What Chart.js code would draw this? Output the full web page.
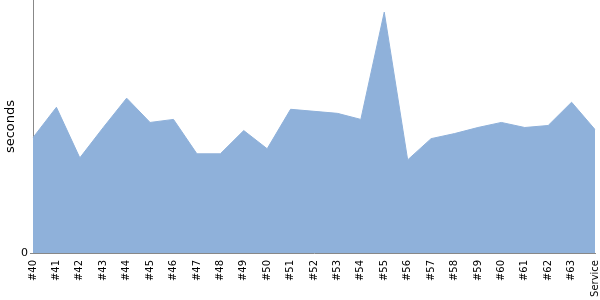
<!DOCTYPE html>
<html>
<head>
<meta charset="utf-8">
<script src="https://cdn.jsdelivr.net/npm/chart.js@4"></script>
<style>
  html, body { margin: 0; padding: 0; background: #fff; }
  #wrap { width: 600px; height: 300px; }
</style>
</head>
<body>
<div id="wrap"><canvas id="buildChart" width="600" height="300"></canvas></div>
<script>
const builds = ['#40', '#41', '#42', '#43', '#44', '#45', '#46', '#47', '#48', '#49', '#50', '#51',
    '#52', '#53', '#54', '#55', '#56', '#57', '#58', '#59', '#60', '#61', '#62', '#63', 'Service'];
const durations = [114, 144, 94, 124, 153, 129, 132, 98, 98, 121, 103, 142,
    140, 138, 132, 238, 92, 113, 118, 124, 129, 124, 126, 149, 122];
const yTicks = [0];
const yMax = 250;

document.addEventListener('DOMContentLoaded', () => {
    const ctx = document.getElementById('buildChart').getContext('2d');
    new Chart(ctx, {
        type: 'line',
        data: {
            labels: builds,
            datasets: [{
                label: 'Duration',
                data: durations,
                fill: 'origin',
                backgroundColor: 'rgb(143, 177, 218)',
                borderColor: 'rgb(143, 177, 218)',
                borderWidth: 1,
                pointRadius: 0,
                tension: 0
            }]
        },
        options: {
            responsive: false,
            animation: false,
            plugins: { legend: { display: false }, tooltip: { enabled: false } },
            layout: { padding: 0 },
            scales: {
                x: {
                    offset: false,
                    grid: { display: false, drawTicks: false },
                    border: { display: true, color: '#888' },
                    ticks: {
                        autoSkip: false,
                        minRotation: 90,
                        maxRotation: 90,
                        padding: 7,
                        color: '#000',
                        font: { family: 'DejaVu Sans', size: 10 }
                    },
                    afterFit: (s) => { s.height = 47; s.paddingRight = 5; s.paddingLeft = 0; }
                },
                y: {
                    min: 0,
                    max: yMax,
                    afterBuildTicks: (s) => { s.ticks = yTicks.map(v => ({ value: v })); },
                    grid: { drawOnChartArea: false, drawTicks: true, tickLength: 3, color: '#888' },
                    border: { display: true, color: '#888' },
                    ticks: {
                        padding: 2,
                        color: '#000',
                        font: { family: 'DejaVu Sans', size: 11 }
                    },
                    title: {
                        display: true,
                        text: 'seconds',
                        color: '#000',
                        padding: { top: 3, bottom: 0 },
                        font: { family: 'DejaVu Sans', size: 13 }
                    },
                    afterFit: (s) => { s.width = 33; s.paddingTop = 0; s.paddingBottom = 0; }
                }
            }
        }
    });
});
</script>
</body>
</html>
